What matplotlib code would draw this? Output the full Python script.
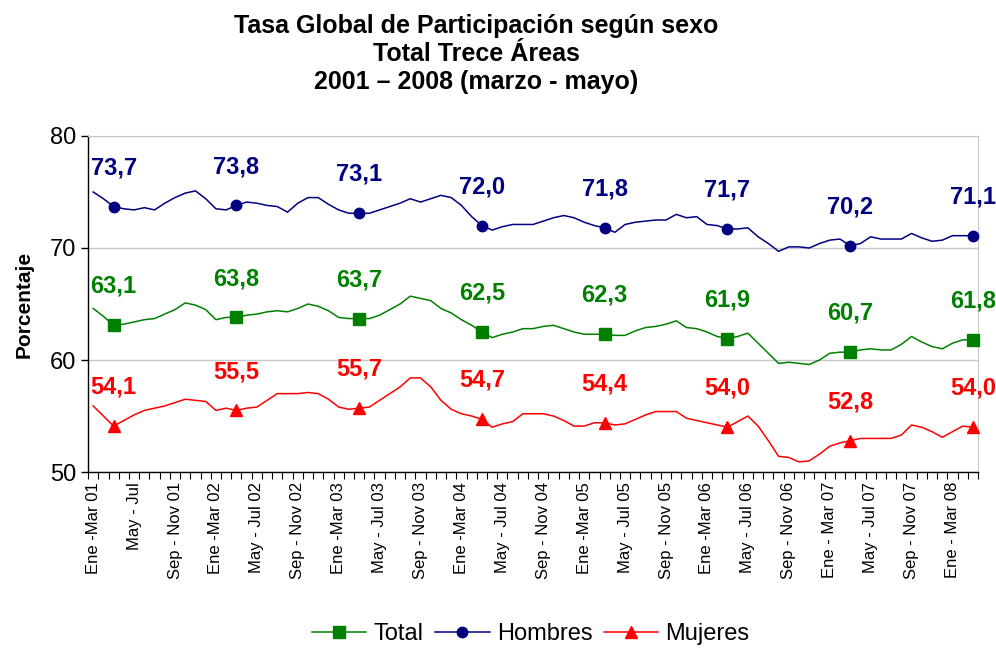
import matplotlib.pyplot as plt
import numpy as np

plt.rcParams['font.family'] = ['Liberation Sans', 'DejaVu Sans']

# rolling quarters, Ene-Mar 01 ... Mar-May 08 (monthly)
total = [64.6, 63.9, 63.1, 63.2, 63.4, 63.6, 63.7, 64.1, 64.5, 65.1, 64.9, 64.5,
         63.6, 63.8, 63.8, 64.0, 64.1, 64.3, 64.4, 64.3, 64.6, 65.0, 64.8, 64.4,
         63.8, 63.7, 63.7, 63.7, 64.0, 64.5, 65.0, 65.7, 65.5, 65.3, 64.6, 64.2,
         63.6, 63.1, 62.5, 62.0, 62.3, 62.5, 62.8, 62.8, 63.0, 63.1, 62.8, 62.5,
         62.3, 62.3, 62.3, 62.2, 62.2, 62.6, 62.9, 63.0, 63.2, 63.5, 62.9, 62.8,
         62.5, 62.1, 61.9, 62.1, 62.4, 61.5, 60.6, 59.7, 59.8, 59.7, 59.6, 60.0,
         60.6, 60.7, 60.7, 60.9, 61.0, 60.9, 60.9, 61.4, 62.1, 61.6, 61.2, 61.0,
         61.5, 61.8, 61.8]
hombres = [75.0, 74.4, 73.7, 73.5, 73.4, 73.6, 73.4, 74.0, 74.5, 74.9, 75.1, 74.4,
           73.5, 73.4, 73.8, 74.1, 74.0, 73.8, 73.7, 73.2, 74.0, 74.5, 74.5, 73.9,
           73.4, 73.1, 73.1, 73.1, 73.4, 73.7, 74.0, 74.4, 74.1, 74.4, 74.7, 74.5,
           73.8, 72.8, 72.0, 71.6, 71.9, 72.1, 72.1, 72.1, 72.4, 72.7, 72.9, 72.7,
           72.3, 72.0, 71.8, 71.4, 72.1, 72.3, 72.4, 72.5, 72.5, 73.0, 72.7, 72.8,
           72.1, 72.0, 71.7, 71.7, 71.8, 71.0, 70.4, 69.7, 70.1, 70.1, 70.0, 70.4,
           70.7, 70.8, 70.2, 70.4, 71.0, 70.8, 70.8, 70.8, 71.3, 70.9, 70.6, 70.7,
           71.1, 71.1, 71.1]
mujeres = [55.9, 55.0, 54.1, 54.6, 55.1, 55.5, 55.7, 55.9, 56.2, 56.5, 56.4, 56.3,
           55.5, 55.7, 55.5, 55.7, 55.8, 56.4, 57.0, 57.0, 57.0, 57.1, 57.0, 56.5,
           55.8, 55.6, 55.7, 55.8, 56.4, 57.0, 57.6, 58.4, 58.4, 57.6, 56.4, 55.6,
           55.2, 55.0, 54.7, 54.0, 54.3, 54.5, 55.2, 55.2, 55.2, 55.0, 54.6, 54.1,
           54.1, 54.4, 54.4, 54.2, 54.3, 54.7, 55.1, 55.4, 55.4, 55.4, 54.8, 54.6,
           54.4, 54.2, 54.0, 54.5, 55.0, 54.1, 52.8, 51.4, 51.3, 50.9, 51.0, 51.6,
           52.3, 52.6, 52.8, 53.0, 53.0, 53.0, 53.0, 53.3, 54.2, 54.0, 53.6, 53.1,
           53.6, 54.1, 54.0]

tick_labels = ['Ene -Mar 01', 'May - Jul', 'Sep - Nov 01', 'Ene -Mar 02', 'May - Jul 02',
               'Sep - Nov 02', 'Ene -Mar 03', 'May - Jul 03', 'Sep - Nov 03', 'Ene -Mar 04',
               'May - Jul 04', 'Sep - Nov 04', 'Ene -Mar 05', 'May - Jul 05', 'Sep - Nov 05',
               'Ene -Mar 06', 'May - Jul 06', 'Sep - Nov 06', 'Ene - Mar 07', 'May - Jul 07',
               'Sep - Nov 07', 'Ene - Mar 08']

x = np.arange(len(total))
marks = list(range(2, len(total), 12))   # Mar-May of each year

fig = plt.figure(figsize=(9.96, 6.5), dpi=100)
ax = fig.add_axes([0.0884, 0.2738, 0.8936, 0.517])

series = [
    ('Total', total, '#008000', 's', 8),
    ('Hombres', hombres, '#000080', 'o', 7.5),
    ('Mujeres', mujeres, '#FF0000', '^', 9),
]
for name, vals, col, mk, ms in series:
    ax.plot(x, vals, color=col, lw=1.1, marker=mk, ms=ms, markevery=marks,
            label=name, clip_on=False, zorder=3)
    for i in marks:
        ax.annotate(f'{vals[i]:.1f}'.replace('.', ','), (x[i], vals[i]),
                    xytext=(0, 28), textcoords='offset points', ha='center', va='center',
                    color=col, fontsize=17, fontweight='bold', annotation_clip=False)

ax.set_xlim(-0.5, len(total) - 0.5)
ax.set_ylim(50, 80)
ax.set_yticks([50, 60, 70, 80])
ax.tick_params(axis='y', labelsize=17, direction='out', length=5, width=1)
ax.yaxis.grid(True, color='#c8c8c8', lw=1)
ax.set_axisbelow(True)

ax.set_xticks(x[::4])
ax.set_xticklabels(tick_labels, rotation=90, fontsize=12)
ax.set_xticks(np.arange(-0.5, len(total), 1), minor=True)
ax.tick_params(axis='x', which='major', length=0, pad=7)
ax.tick_params(axis='x', which='minor', length=5, width=0.8, direction='out')

ax.spines['top'].set_color('#c8c8c8')
ax.spines['right'].set_color('#c8c8c8')
ax.spines['left'].set_linewidth(1)
ax.spines['bottom'].set_linewidth(1)

ax.set_ylabel('Porcentaje', fontsize=15, fontweight='bold', labelpad=12)

fig.text(0.478, 1 - 14 / 650, 'Tasa Global de Participación según sexo\nTotal Trece Áreas\n2001 – 2008 (marzo - mayo)',
         ha='center', va='top', fontsize=18, fontweight='bold', linespacing=1.2)

ax.legend(loc='center', bbox_to_anchor=(0.533, 1 - 634 / 650), bbox_transform=fig.transFigure,
          ncol=3, frameon=False, fontsize=17, handlelength=2.3, handletextpad=0.3,
          columnspacing=0.5, borderpad=0.1)

plt.savefig('out.png', dpi=100)
